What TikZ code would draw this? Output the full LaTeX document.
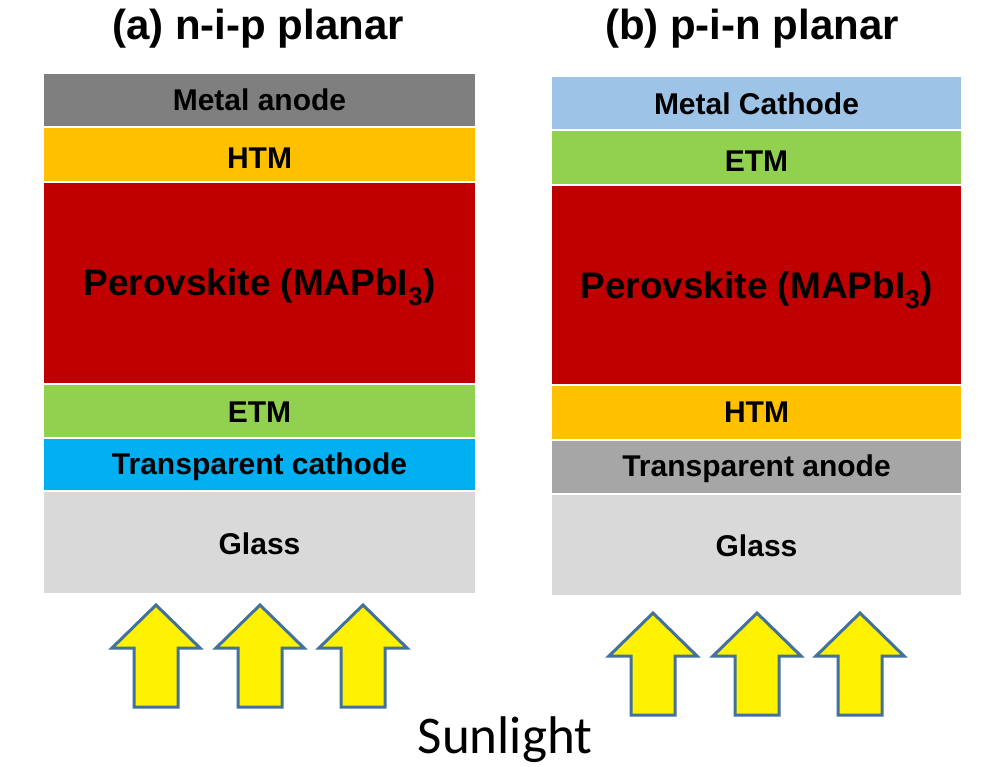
\documentclass[tikz,border=0pt]{standalone}
\usepackage{fontspec}
\setmainfont{Liberation Sans}
\newfontfamily\calib{Carlito}
\definecolor{cMetal}{HTML}{7F7F7F}
\definecolor{cHTM}{HTML}{FFC000}
\definecolor{cPero}{HTML}{C00000}
\definecolor{cETM}{HTML}{92D050}
\definecolor{cTC}{HTML}{00B0F0}
\definecolor{cGlass}{HTML}{D9D9D9}
\definecolor{cMC}{HTML}{9DC3E6}
\definecolor{cTA}{HTML}{A6A6A6}
\definecolor{cArrow}{HTML}{41719C}
\newcommand\dnby[2]{\raisebox{-#1pt}[\height][\depth]{#2}}
\tikzset{
  layer/.style={inner sep=0pt, outer sep=0pt, text=black, font=\bfseries\fontsize{30}{30}\selectfont},
  leftl/.style={layer, minimum width=431pt},
  rightl/.style={layer, minimum width=409pt},
  pero/.style={font=\bfseries\fontsize{37}{37}\selectfont},
  ttl/.style={font=\bfseries\fontsize{42}{42}\selectfont, inner sep=0pt},
  sunarrow/.style={fill=yellow, draw=cArrow, line width=3pt, line join=miter}
}
\begin{document}
\begin{tikzpicture}[x=1pt,y=-1pt]
\useasboundingbox[fill=white] (0,0) rectangle (981,767);
% titles
\node[ttl] (ta) at (258,29) {(a) n-i-p planar};
\node[ttl] (tb) at (752,29) {(b) p-i-n planar};
% left stack
\node[leftl, fill=cMetal, minimum height=52pt] (lma) at (259.5,100) {\dnby{0}{Metal anode}};
\node[leftl, fill=cHTM, minimum height=53pt] (lhtm) at (259.5,154.5) {\dnby{3.5}{HTM}};
\node[leftl, fill=cPero, minimum height=200pt, pero] (lpv) at (259.5,283) {\dnby{4}{Perovskite (MAPbI\textsubscript{3})}};
\node[leftl, fill=cETM, minimum height=52pt] (letm) at (259.5,411) {\dnby{1}{ETM}};
\node[leftl, fill=cTC, minimum height=51pt] (ltc) at (259.5,464.5) {\dnby{2.5}{Transparent cathode}};
\node[leftl, fill=cGlass, minimum height=101pt] (lgl) at (259.5,542.5) {\dnby{1.5}{Glass}};
% right stack
\node[rightl, fill=cMC, minimum height=52pt] (rmc) at (756.5,103) {\dnby{1}{Metal Cathode}};
\node[rightl, fill=cETM, minimum height=53pt] (retm) at (756.5,157.5) {\dnby{3.5}{ETM}};
\node[rightl, fill=cPero, minimum height=198pt, pero] (rpv) at (756.5,285) {\dnby{5}{Perovskite (MAPbI\textsubscript{3})}};
\node[rightl, fill=cHTM, minimum height=53pt] (rhtm) at (756.5,412.5) {\dnby{0}{HTM}};
\node[rightl, fill=cTA, minimum height=52pt] (rta) at (756.5,467) {\dnby{2}{Transparent anode}};
\node[rightl, fill=cGlass, minimum height=100pt] (rgl) at (756.5,545) {\dnby{1}{Glass}};
% arrows
\foreach \cx/\t in {156/605, 260/605, 363/605, 653/613, 757/613, 860/613}{
  \draw[sunarrow] (\cx,\t) -- (\cx+44,\t+43) -- (\cx+22,\t+43) -- (\cx+22,\t+102)
    -- (\cx-22,\t+102) -- (\cx-22,\t+43) -- (\cx-44,\t+43) -- cycle;
}
\node[font=\calib\fontsize{53}{53}\selectfont, inner sep=0pt] (sun) at (505,740) {Sunlight};
\end{tikzpicture}
\end{document}
